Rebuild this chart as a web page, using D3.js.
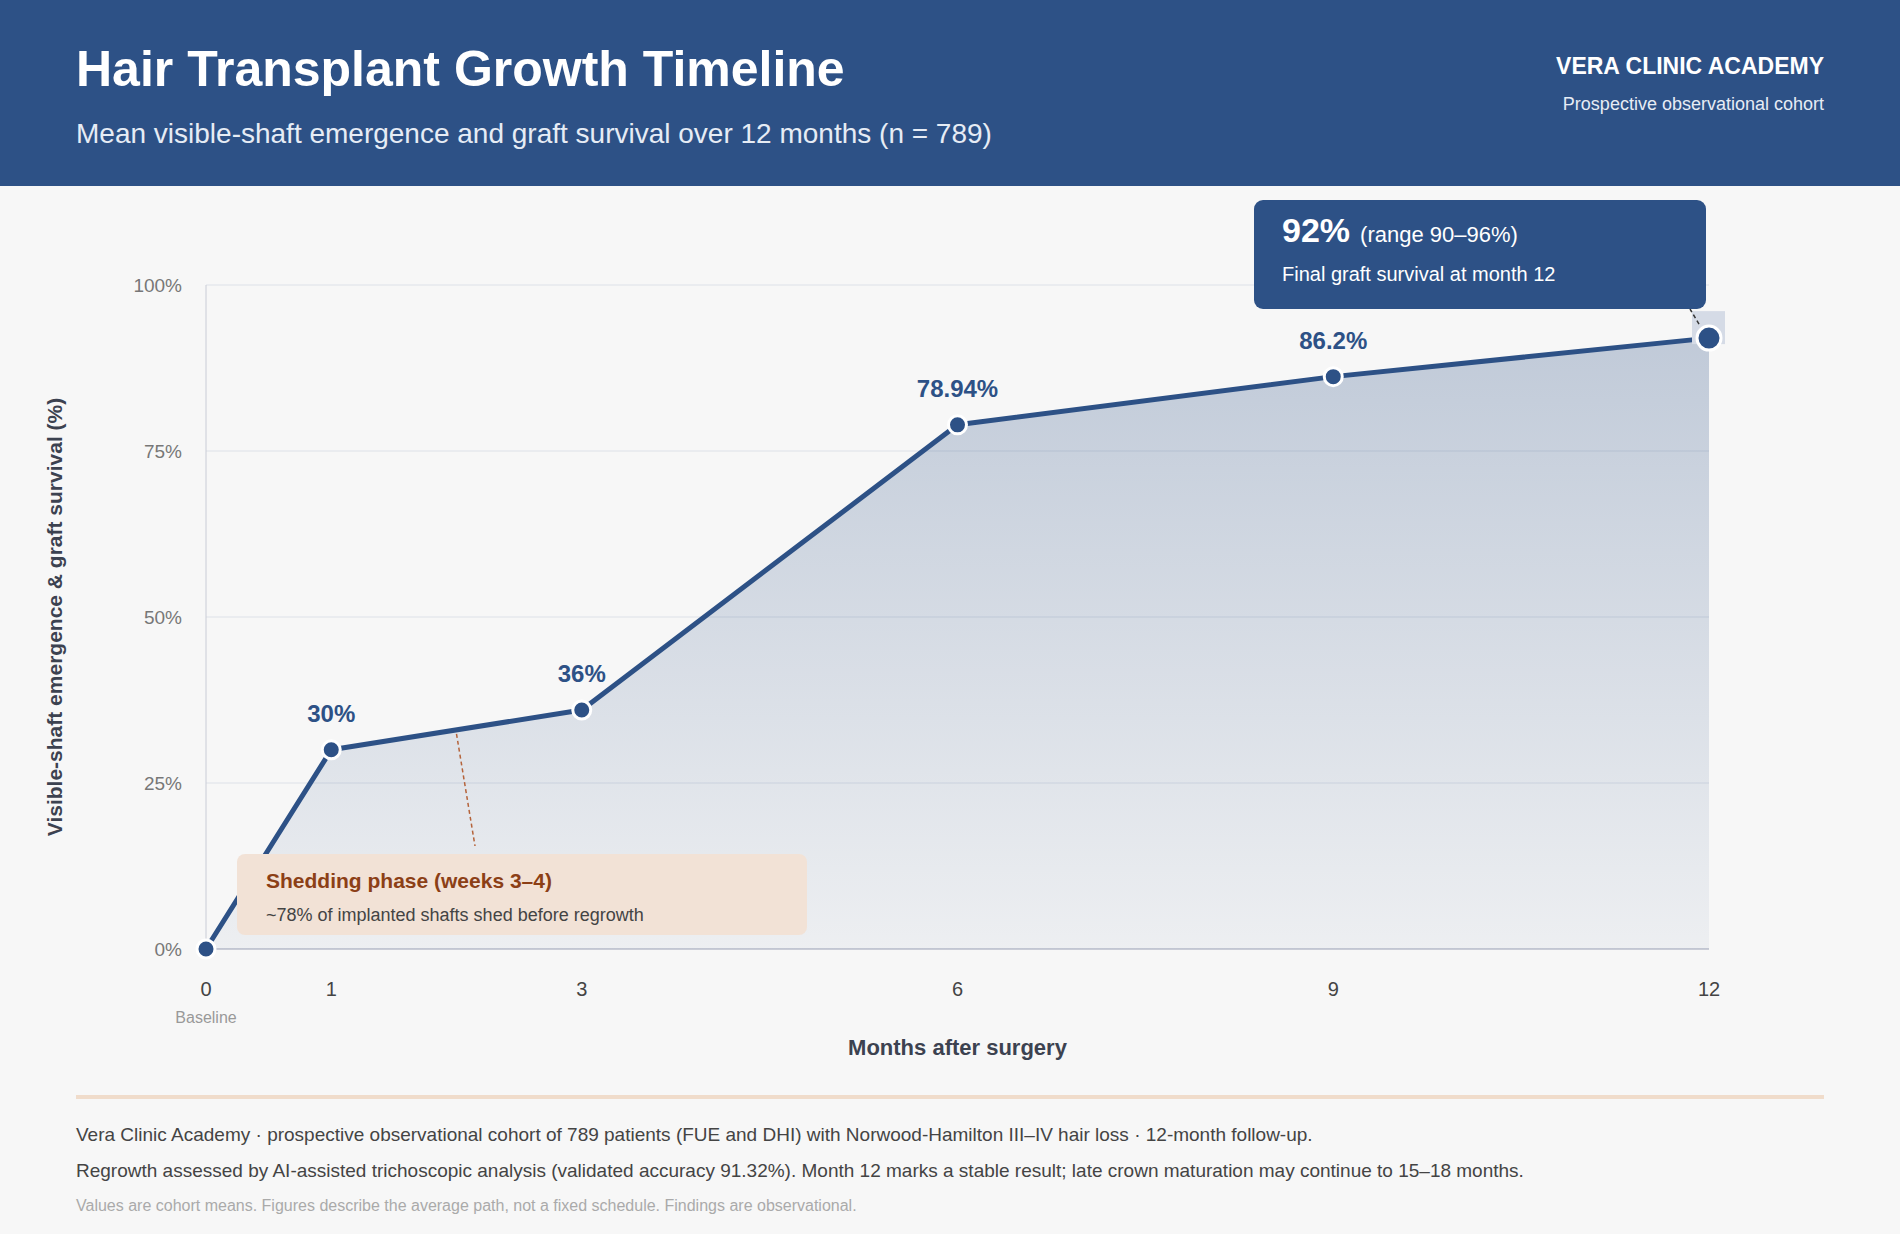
<!DOCTYPE html>
<html><head><meta charset="utf-8">
<script src="https://cdn.jsdelivr.net/npm/d3@7"></script>
<style>
body{margin:0;background:#f7f7f7;font-family:"Helvetica Neue",Arial,"Liberation Sans",sans-serif;}
svg{display:block}
</style></head>
<body><svg id="mainsvg" width="1900" height="1234"></svg>
<script>
// data
const months = [0, 1, 3, 6, 9, 12];
const values = [0, 30, 36, 78.94, 86.2, 92];
const pointLabels = ['', '30%', '36%', '78.94%', '86.2%', ''];
const yTicks = [0, 25, 50, 75, 100];
const footerLines = [
  'Vera Clinic Academy · prospective observational cohort of 789 patients (FUE and DHI) with Norwood-Hamilton III–IV hair loss · 12-month follow-up.',
  'Regrowth assessed by AI-assisted trichoscopic analysis (validated accuracy 91.32%). Month 12 marks a stable result; late crown maturation may continue to 15–18 months.',
  'Values are cohort means. Figures describe the average path, not a fixed schedule. Findings are observational.'
];

const blue = '#2d5186';
const svg = d3.select('#mainsvg');
const W = 1900;
const margin = {top: 285, left: 206, right: 191, bottom: 285};
const innerW = 1709 - margin.left;
const innerH = 949 - margin.top;

// header
svg.append('rect').attr('width', W).attr('height', 186).attr('fill', blue);
svg.append('text').attr('x', 76).attr('y', 86).attr('fill', '#fff')
  .attr('font-size', 50).attr('font-weight', 700).text('Hair Transplant Growth Timeline');
svg.append('text').attr('x', 76).attr('y', 143).attr('fill', '#e6ecf5')
  .attr('font-size', 28).text('Mean visible-shaft emergence and graft survival over 12 months (n = 789)');
svg.append('text').attr('x', 1824).attr('y', 74).attr('fill', '#fff').attr('text-anchor', 'end')
  .attr('font-size', 23).attr('font-weight', 700).text('VERA CLINIC ACADEMY');
svg.append('text').attr('x', 1824).attr('y', 110).attr('fill', '#e6ecf5').attr('text-anchor', 'end')
  .attr('font-size', 18).text('Prospective observational cohort');

const x = d3.scaleLinear().domain([0, 12]).range([0, innerW]);
const y = d3.scaleLinear().domain([0, 100]).range([innerH, 0]);
const g = svg.append('g').attr('transform', `translate(${margin.left},${margin.top})`);

// grid
g.selectAll('.grid').data(yTicks).enter().append('line')
  .attr('x1', 0).attr('x2', innerW).attr('y1', d => y(d)).attr('y2', d => y(d))
  .attr('stroke', '#dde1e8').attr('stroke-width', 1);
g.selectAll('.ytick').data(yTicks).enter().append('text')
  .attr('x', -24).attr('y', d => y(d) + 7).attr('text-anchor', 'end')
  .attr('font-size', 19).attr('fill', '#777').text(d => d + '%');
g.append('line').attr('x1', 0).attr('x2', 0).attr('y1', 0).attr('y2', innerH).attr('stroke', '#c9ccd6');
g.append('line').attr('x1', 0).attr('x2', innerW).attr('y1', innerH).attr('y2', innerH).attr('stroke', '#c9ccd6').attr('stroke-width', 2);

g.selectAll('.xtick').data(months).enter().append('text')
  .attr('x', d => x(d)).attr('y', innerH + 47).attr('text-anchor', 'middle')
  .attr('font-size', 20).attr('fill', '#444').text(d => d);
g.append('text').attr('x', x(0)).attr('y', innerH + 74).attr('text-anchor', 'middle')
  .attr('font-size', 16).attr('fill', '#999').text('Baseline');
g.append('text').attr('x', x(6)).attr('y', innerH + 106).attr('text-anchor', 'middle')
  .attr('font-size', 22).attr('font-weight', 700).attr('fill', '#3c4250').text('Months after surgery');
svg.append('text').attr('transform', `translate(62,${margin.top + innerH / 2}) rotate(-90)`)
  .attr('text-anchor', 'middle').attr('font-size', 21).attr('font-weight', 700).attr('fill', '#3c4250')
  .text('Visible-shaft emergence & graft survival (%)');

// area
const data = months.map((m, i) => ({m, v: values[i], label: pointLabels[i]}));
const grad = svg.append('defs').append('linearGradient').attr('id', 'ag')
  .attr('x1', 0).attr('x2', 0).attr('y1', 0).attr('y2', 1);
grad.append('stop').attr('offset', '0%').attr('stop-color', blue).attr('stop-opacity', 0.27);
grad.append('stop').attr('offset', '100%').attr('stop-color', blue).attr('stop-opacity', 0.05);
g.append('path').datum(data)
  .attr('d', d3.area().x(d => x(d.m)).y0(innerH).y1(d => y(d.v)))
  .attr('fill', 'url(#ag)');
g.append('path').datum(data)
  .attr('d', d3.line().x(d => x(d.m)).y(d => y(d.v)))
  .attr('fill', 'none').attr('stroke', blue).attr('stroke-width', 5).attr('stroke-linejoin', 'round');

// highlight behind final point
const last = data[data.length - 1];
g.append('rect').attr('x', x(12) - 17).attr('y', y(last.v) - 27).attr('width', 33).attr('height', 33)
  .attr('fill', '#d5dbe6');

g.selectAll('.pt').data(data).enter().append('circle')
  .attr('cx', d => x(d.m)).attr('cy', d => y(d.v))
  .attr('r', (d, i) => i === data.length - 1 ? 12 : 9)
  .attr('fill', blue).attr('stroke', '#fff').attr('stroke-width', 3);
g.selectAll('.pl').data(data.filter(d => d.label)).enter().append('text')
  .attr('x', d => x(d.m)).attr('y', d => y(d.v) - 28).attr('text-anchor', 'middle')
  .attr('font-size', 24).attr('font-weight', 700).attr('fill', blue).text(d => d.label);

// shedding callout
const shedM = 2, shedV = 33;
g.append('line').attr('x1', x(shedM)).attr('y1', y(shedV) + 4).attr('x2', 269).attr('y2', 561)
  .attr('stroke', '#b5633a').attr('stroke-width', 1.5).attr('stroke-dasharray', '4,3');
svg.append('rect').attr('x', 237).attr('y', 854).attr('width', 570).attr('height', 81).attr('rx', 8)
  .attr('fill', '#f2e2d6');
svg.append('text').attr('x', 266).attr('y', 888).attr('font-size', 21).attr('font-weight', 700)
  .attr('fill', '#8c3f16').text('Shedding phase (weeks 3–4)');
svg.append('text').attr('x', 266).attr('y', 921).attr('font-size', 18).attr('fill', '#444')
  .text('~78% of implanted shafts shed before regrowth');

// final callout
g.append('line').attr('x1', x(12) - 10).attr('y1', y(last.v) - 14).attr('x2', 1690 - margin.left).attr('y2', 309 - margin.top)
  .attr('stroke', '#333').attr('stroke-width', 1.5).attr('stroke-dasharray', '4,3');
svg.append('rect').attr('x', 1254).attr('y', 200).attr('width', 452).attr('height', 109).attr('rx', 9)
  .attr('fill', blue);
const t = svg.append('text').attr('x', 1282).attr('y', 242).attr('fill', '#fff');
t.append('tspan').attr('font-size', 34).attr('font-weight', 700).text('92%');
t.append('tspan').attr('font-size', 22).attr('dx', 10).text('(range 90–96%)');
svg.append('text').attr('x', 1282).attr('y', 281).attr('fill', '#fff').attr('font-size', 20)
  .text('Final graft survival at month 12');

// footer
svg.append('line').attr('x1', 76).attr('x2', 1824).attr('y1', 1097).attr('y2', 1097)
  .attr('stroke', '#f0dccb').attr('stroke-width', 4);
svg.selectAll('.ft').data(footerLines).enter().append('text')
  .attr('x', 76).attr('y', (d, i) => [1141, 1177, 1211][i])
  .attr('font-size', (d, i) => i === 2 ? 16 : 19)
  .attr('fill', (d, i) => i === 2 ? '#aaa' : '#444').text(d => d);
</script></body></html>
